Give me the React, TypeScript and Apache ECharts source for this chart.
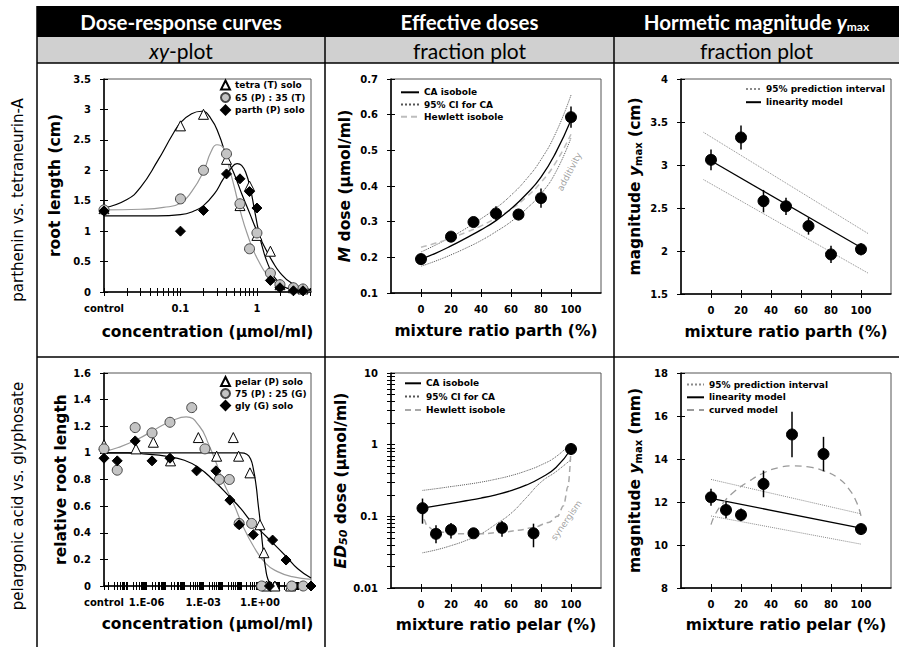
import React, { useEffect, useRef } from 'react';
import * as echarts from 'echarts';

const W = 899;
const H = 647;
const FONT = 'DejaVu Sans';
const HFONT = 'Lato';

// ---------------- table texts ----------------
const colHeaders = ['Dose-response curves', 'Effective doses', 'Hormetic magnitude '];
const subHeaders = ['-plot', 'fraction plot', 'fraction plot'];
const rowLabels = ['parthenin vs. tetraneurin-A', 'pelargonic acid vs. glyphosate'];

// ---------------- panel 1 : dose-response, parthenin / tetraneurin-A ----------------
// concentration (µmol/ml); 0.01 = control position
const p1Conc = [0.01, 0.1, 0.2, 0.4, 0.6, 0.8, 1, 1.5, 2, 3, 4];
const p1Tetra = [1.37, 2.73, 2.92, 2.18, 1.42, 1.74, 0.93, 0.67, 0.12, 0.07, 0.05];
const p1Mix = [1.35, 1.53, 2.0, 2.27, 1.45, 0.71, 0.97, 0.31, 0.12, 0.07, 0.05];
const p1Parth = [1.33, 1.0, 1.34, 1.94, 1.86, 1.65, 1.38, 0.19, 0.07, 0.02, 0.02];
const p1CurveTetra = [[0.01, 1.38], [0.02, 1.52], [0.03, 1.72], [0.05, 2.15], [0.08, 2.6], [0.1, 2.78], [0.14, 2.93], [0.19, 2.97], [0.25, 2.85], [0.32, 2.58], [0.4, 2.22], [0.5, 1.95], [0.63, 1.62], [0.8, 1.3], [1, 1.0], [1.26, 0.74], [1.6, 0.5], [2, 0.32], [2.8, 0.15], [4, 0.07], [5.1, 0.04]];
const p1CurveMix = [[0.01, 1.35], [0.03, 1.36], [0.06, 1.39], [0.1, 1.46], [0.14, 1.65], [0.2, 1.98], [0.25, 2.3], [0.3, 2.42], [0.36, 2.38], [0.4, 2.2], [0.5, 1.75], [0.6, 1.35], [0.75, 0.95], [1, 0.56], [1.5, 0.22], [2, 0.11], [3, 0.04], [5.1, 0.01]];
const p1CurveParth = [[0.01, 1.25], [0.05, 1.25], [0.1, 1.27], [0.15, 1.33], [0.2, 1.42], [0.28, 1.62], [0.36, 1.85], [0.45, 2.02], [0.55, 2.11], [0.63, 2.08], [0.72, 1.95], [0.82, 1.7], [0.92, 1.38], [1.05, 1.0], [1.2, 0.7], [1.4, 0.45], [1.7, 0.24], [2.2, 0.1], [3, 0.04], [5.1, 0.02]];
const p1XLabelConc = [0.01, 0.1, 1];
const p1XLabelText = ['control', '0.1', '1'];
const p1XMinorConc = [0.02, 0.03, 0.04, 0.05, 0.06, 0.07, 0.08, 0.09, 0.2, 0.3, 0.4, 0.5, 0.6, 0.7, 0.8, 0.9, 2, 3, 4, 5];

// ---------------- panel 2 : M dose fraction plot ----------------
const p2Ratio = [0, 20, 35, 50, 65, 80, 100];
const p2Dose = [0.195, 0.258, 0.299, 0.323, 0.32, 0.366, 0.593];
const p2Err = [0.008, 0.01, 0.012, 0.02, 0.016, 0.027, 0.03];
const p2CA = [[0, 0.195], [10, 0.212], [20, 0.232], [30, 0.254], [40, 0.277], [50, 0.303], [60, 0.336], [70, 0.376], [80, 0.425], [90, 0.495], [100, 0.585]];
const p2CIup = [[0, 0.215], [10, 0.235], [20, 0.257], [30, 0.281], [40, 0.308], [50, 0.338], [60, 0.374], [70, 0.418], [80, 0.474], [90, 0.55], [100, 0.655]];
const p2CIlo = [[0, 0.175], [10, 0.19], [20, 0.207], [30, 0.226], [40, 0.247], [50, 0.272], [60, 0.3], [70, 0.335], [80, 0.378], [90, 0.44], [100, 0.535]];
const p2Hewlett = [[0, 0.228], [10, 0.24], [20, 0.254], [30, 0.27], [40, 0.288], [50, 0.31], [60, 0.335], [70, 0.368], [80, 0.41], [90, 0.467], [100, 0.545]];
const p2Note = [[99, 0.44]];

// ---------------- panel 3 : ymax parth ----------------
const p3Ratio = [0, 20, 35, 50, 65, 80, 100];
const p3Ymax = [3.06, 3.32, 2.58, 2.52, 2.29, 1.96, 2.02];
const p3Err = [0.12, 0.14, 0.13, 0.1, 0.1, 0.1, 0.07];
const p3Linear = [[0, 3.05], [100, 2.04]];
const p3PIup = [[-5, 3.38], [105, 2.2]];
const p3PIlo = [[-5, 2.83], [105, 1.74]];

// ---------------- panel 4 : dose-response pelargonic / glyphosate ----------------
// x = log10 concentration (µmol/ml); -8.25 = control position
const p4TriX = [-8.25, -6.56, -5.64, -4.73, -3.26, -2.29, -1.41, -1.13, -0.53, 0, 0.21, 0.35, 0.79, 1.62];
const p4TriY = [1.06, 1.03, 1.08, 0.94, 1.115, 0.975, 1.115, 0.975, 0.85, 0.46, 0.25, 0, 0, 0];
const p4MixX = [-8.25, -7.55, -6.6, -5.71, -4.76, -3.61, -2.91, -2.15, -1.62, -1.1, -0.44, 0.09, 1.68, 2.29];
const p4MixY = [1.03, 0.87, 1.19, 1.15, 1.23, 1.34, 1.03, 0.8, 0.8, 0.47, 0.47, 0, 0, 0];
const p4GlyX = [-8.25, -7.55, -6.6, -5.71, -4.76, -3.35, -2.33, -1.59, -1.1, -0.35, 0.67, 1.38, 0.5, 2.7];
const p4GlyY = [0.96, 0.94, 1.09, 0.94, 0.96, 0.865, 0.865, 0.645, 0.46, 0.385, 0.345, 0.195, 0, 0];
const p4CurveMix = [[-8.25, 1.01], [-7.5, 1.04], [-6.5, 1.1], [-5.5, 1.18], [-4.6, 1.245], [-3.9, 1.27], [-3.2, 1.2], [-2.7, 1.06], [-2.3, 0.92], [-1.9, 0.77], [-1.4, 0.62], [-0.9, 0.45], [-0.35, 0.3], [0.3, 0.17], [0.9, 0.11], [1.7, 0.07], [2.7, 0.05]];
const p4CurveGly = [[-8.25, 1.0], [-7, 1.0], [-6, 0.99], [-5, 0.975], [-4, 0.945], [-3.2, 0.885], [-2.5, 0.8], [-1.6, 0.67], [-1, 0.58], [-0.5, 0.49], [0.35, 0.37], [1.4, 0.22], [2, 0.13], [2.7, 0.06]];
const p4CurvePelar = [[-8.25, 1.0], [-2, 1.0], [-1, 1.0], [-0.7, 0.99], [-0.5, 0.955], [-0.35, 0.88], [-0.2, 0.75], [-0.1, 0.62], [0, 0.5], [0.1, 0.36], [0.2, 0.23], [0.3, 0.13], [0.4, 0.06], [0.55, 0.02], [0.8, 0.0], [2.7, 0.0]];
const p4XLabelPos = [-8.25, -6, -3, 0];
const p4XLabelText = ['control', '1.E-06', '1.E-03', '1.E+00'];
const p4Decades = [-8, -7, -6, -5, -4, -3, -2, -1, 0, 1, 2];

// ---------------- panel 5 : ED50 fraction plot ----------------
const p5Ratio = [1, 10, 20, 35, 54, 75, 100];
const p5ED50 = [0.13, 0.057, 0.065, 0.058, 0.069, 0.058, 0.87];
const p5Lo = [0.079, 0.042, 0.049, 0.051, 0.052, 0.037, 0.82];
const p5Hi = [0.177, 0.075, 0.081, 0.066, 0.086, 0.079, 0.93];
const p5CA = [[1, 0.13], [10, 0.14], [20, 0.152], [30, 0.165], [40, 0.18], [50, 0.2], [60, 0.228], [70, 0.272], [80, 0.345], [90, 0.48], [100, 0.87]];
const p5CIup = [[1, 0.23], [10, 0.243], [20, 0.26], [30, 0.278], [40, 0.3], [50, 0.33], [60, 0.37], [70, 0.43], [80, 0.52], [90, 0.68], [100, 1.05]];
const p5CIlo = [[1, 0.031], [10, 0.034], [20, 0.039], [30, 0.046], [40, 0.057], [50, 0.078], [60, 0.11], [70, 0.18], [80, 0.3], [90, 0.42], [100, 0.62]];
const p5Hewlett = [[1, 0.125], [2, 0.09], [4, 0.074], [8, 0.065], [14, 0.06], [25, 0.057], [40, 0.057], [55, 0.06], [65, 0.064], [75, 0.07], [85, 0.082], [91, 0.1], [95, 0.14], [98, 0.26], [100, 0.87]];
const p5Note = [[97, 0.088]];
const p5YLabelVal = [0.01, 0.1, 1, 10];
const p5YLabelText = ['0.01', '0.1', '1', '10'];

// ---------------- panel 6 : ymax pelar ----------------
const p6Ratio = [0, 10, 20, 35, 54, 75, 100];
const p6Ymax = [12.22, 11.63, 11.4, 12.84, 15.14, 14.23, 10.74];
const p6Err = [0.4, 0.38, 0.3, 0.62, 1.06, 0.8, 0.12];
const p6Linear = [[0, 12.17], [100, 10.78]];
const p6PIup = [[0, 13.05], [100, 11.45]];
const p6PIlo = [[0, 11.35], [100, 10.04]];
const p6Curved = [[0, 10.95], [3, 11.45], [8, 11.95], [15, 12.45], [25, 12.95], [35, 13.35], [45, 13.6], [55, 13.68], [65, 13.63], [75, 13.45], [85, 13.1], [92, 12.6], [97, 12.0], [100, 11.35]];

const ratioLabels = [0, 20, 40, 60, 80, 100];

// ---------------- layout ----------------
const grids = [
  { left: 104, top: 79, width: 207, height: 213 },
  { left: 391, top: 79, width: 210, height: 214 },
  { left: 681, top: 79, width: 210, height: 215 },
  { left: 104, top: 373, width: 207, height: 213 },
  { left: 391, top: 373, width: 210, height: 215 },
  { left: 681, top: 373, width: 210, height: 215 },
];

const lg = (v: number) => Math.log10(v);
const decadeMinors = (decs: number[]) => {
  const out: number[] = [];
  decs.forEach((d) => { for (let k = 2; k <= 9; k++) out.push(d + Math.log10(k)); });
  return out;
};

const TS = 15.5;
const labelStyle = { fontFamily: FONT, fontWeight: 'bold', fontSize: 10, color: '#000' };
const nameBase = { fontFamily: FONT, fontWeight: 'bold', fontSize: TS, color: '#000' };
const rich = {
  n: { fontFamily: FONT, fontWeight: 'bold', fontSize: TS, color: '#000' },
  i: { fontFamily: FONT, fontWeight: 'bold', fontStyle: 'italic', fontSize: TS, color: '#000' },
  s: { fontFamily: FONT, fontWeight: 'bold', fontSize: 10, color: '#000', verticalAlign: 'bottom', lineHeight: 13 },
  is: { fontFamily: FONT, fontWeight: 'bold', fontStyle: 'italic', fontSize: 11, color: '#000', verticalAlign: 'bottom', lineHeight: 13 },
};

function axisPair(dim: 'x' | 'y', gridIndex: number, s: any) {
  const base: any = {
    type: 'value', gridIndex, min: s.min, max: s.max,
    position: dim === 'x' ? 'bottom' : 'left',
    splitLine: { show: false },
  };
  if (s.interval != null) base.interval = s.interval;
  const tick: any = { show: true, length: 4, lineStyle: { color: '#000', width: 1 } };
  if (s.ticks) tick.customValues = s.ticks;
  const label: any = { show: true, margin: dim === 'x' ? 11 : 13, ...labelStyle };
  if (s.labels) label.customValues = s.labels;
  if (s.formatter) label.formatter = s.formatter;
  const main: any = {
    ...base,
    axisLine: { show: true, onZero: false, lineStyle: { color: '#000', width: 1.5 } },
    axisTick: { ...tick, inside: false },
    axisLabel: label,
    name: s.name, nameLocation: 'middle', nameGap: s.nameGap,
    nameTextStyle: { ...nameBase, rich },
  };
  const over: any = {
    ...base,
    axisLine: { show: false, onZero: false },
    axisTick: { ...tick, inside: true },
    axisLabel: { show: false },
  };
  return [main, over];
}

const lookup = (pos: number[], txt: string[]) => (v: number) => {
  const i = pos.findIndex((p) => Math.abs(p - v) < 1e-6);
  return i >= 0 ? txt[i] : '';
};

function lineS(gi: number, data: number[][], color: string, width: number, type: any, name?: string, smooth: any = false) {
  return {
    type: 'line', name, xAxisIndex: gi * 2, yAxisIndex: gi * 2, data,
    symbol: 'none', showSymbol: false, smooth, silent: true, z: 3,
    lineStyle: { color, width, type }, itemStyle: { color },
  };
}
function scatS(gi: number, name: string | undefined, data: number[][], symbol: string, fill: string, border: string, size: number) {
  return {
    type: 'scatter', name, xAxisIndex: gi * 2, yAxisIndex: gi * 2, data, symbol, symbolSize: size,
    itemStyle: { color: fill, borderColor: border, borderWidth: 1, opacity: 1 }, clip: false, z: 5, silent: true,
  };
}
function errS(gi: number, data: number[][]) {
  return {
    type: 'custom', xAxisIndex: gi * 2, yAxisIndex: gi * 2, data, silent: true, z: 4, clip: false,
    encode: { x: 0, y: [1, 2] },
    renderItem: (_p: any, api: any) => {
      const a = api.coord([api.value(0), api.value(1)]);
      const b = api.coord([api.value(0), api.value(2)]);
      return { type: 'line', shape: { x1: a[0], y1: a[1], x2: b[0], y2: b[1] }, style: { stroke: '#000', lineWidth: 1.5 } };
    },
  };
}
function noteS(gi: number, data: number[][], text: string, rotate: number) {
  return {
    type: 'scatter', xAxisIndex: gi * 2, yAxisIndex: gi * 2, data, symbolSize: 1, silent: true,
    itemStyle: { color: 'rgba(0,0,0,0)' },
    label: { show: true, position: 'inside', formatter: text, rotate, color: '#8a8a8a', fontSize: 9, fontFamily: FONT },
  };
}

function buildOption() {
  const xAxis: any[] = [];
  const yAxis: any[] = [];
  const ratioAxis = (gi: number, name: string, gap: number) =>
    xAxis.push(...axisPair('x', gi, { min: -20, max: 120, labels: ratioLabels, ticks: ratioLabels, name, nameGap: gap }));

  // panel 1
  xAxis.push(...axisPair('x', 0, {
    min: -2, max: 0.707,
    labels: p1XLabelConc.map(lg), formatter: lookup(p1XLabelConc.map(lg), p1XLabelText),
    ticks: [...p1XLabelConc, ...p1XMinorConc].map(lg),
    name: 'concentration (µmol/ml)', nameGap: 32,
  }));
  yAxis.push(...axisPair('y', 0, { min: 0, max: 3.5, interval: 0.5, name: 'root length (cm)', nameGap: 41 }));
  // panel 2
  ratioAxis(1, 'mixture ratio parth (%)', 30);
  yAxis.push(...axisPair('y', 1, { min: 0.1, max: 0.7, interval: 0.1, name: '{i|M}{n| dose (µmol/ml)}', nameGap: 38 }));
  // panel 3
  ratioAxis(2, 'mixture ratio parth (%)', 30);
  yAxis.push(...axisPair('y', 2, { min: 1.5, max: 4, interval: 0.5, name: '{n|magnitude }{i|y}{s|max}{n| (cm)}', nameGap: 38 }));
  // panel 4
  xAxis.push(...axisPair('x', 3, {
    min: -8.25, max: 2.7,
    labels: p4XLabelPos, formatter: lookup(p4XLabelPos, p4XLabelText),
    ticks: [-8.25, ...p4Decades, ...decadeMinors(p4Decades.slice(0, -1)).filter((v) => v < 2.7)],
    name: 'concentration (µmol/ml)', nameGap: 30,
  }));
  yAxis.push(...axisPair('y', 3, { min: 0, max: 1.6, interval: 0.2, name: 'relative root length', nameGap: 34 }));
  // panel 5
  ratioAxis(4, 'mixture ratio pelar (%)', 29);
  yAxis.push(...axisPair('y', 4, {
    min: -2, max: 1, interval: 1,
    labels: p5YLabelVal.map(lg), formatter: lookup(p5YLabelVal.map(lg), p5YLabelText),
    ticks: [-2, -1, 0, 1, ...decadeMinors([-2, -1, 0])],
    name: '{i|ED}{is|50}{n| dose (µmol/ml)}', nameGap: 38,
  }));
  // panel 6
  ratioAxis(5, 'mixture ratio pelar (%)', 29);
  yAxis.push(...axisPair('y', 5, { min: 8, max: 18, interval: 2, name: '{n|magnitude }{i|y}{s|max}{n| (mm)}', nameGap: 38 }));

  const zip = (xs: number[], ys: number[]) => xs.map((x, i) => [x, ys[i]]);
  const logX = (d: number[][]) => d.map(([x, y]) => [lg(x), y]);
  const logY = (d: number[][]) => d.map(([x, y]) => [x, lg(y)]);

  const GRAY = '#c4c4c4';
  const series: any[] = [
    // panel 1
    lineS(0, logX(p1CurveTetra), '#000', 1.2, 'solid', undefined, true),
    lineS(0, logX(p1CurveMix), '#9a9a9a', 1.2, 'solid', undefined, true),
    lineS(0, logX(p1CurveParth), '#000', 1.2, 'solid', undefined, true),
    scatS(0, 'tetra (T) solo', zip(p1Conc.map(lg), p1Tetra), 'triangle', '#fff', '#000', 10),
    scatS(0, '65 (P) : 35 (T)', zip(p1Conc.map(lg), p1Mix), 'circle', GRAY, '#444', 10),
    scatS(0, 'parth (P) solo', zip(p1Conc.map(lg), p1Parth), 'diamond', '#000', '#000', 10),
    // panel 2
    lineS(1, p2CIup, '#555', 1, 'dotted', '95% CI for CA', true),
    lineS(1, p2CIlo, '#555', 1, 'dotted', '95% CI for CA', true),
    lineS(1, p2Hewlett, '#bdbdbd', 1.5, [6, 4], 'Hewlett isobole', true),
    lineS(1, p2CA, '#000', 1.3, 'solid', 'CA isobole', true),
    errS(1, p2Ratio.map((x, i) => [x, p2Dose[i] - p2Err[i], p2Dose[i] + p2Err[i]])),
    scatS(1, undefined, zip(p2Ratio, p2Dose), 'circle', '#000', '#000', 11),
    noteS(1, p2Note, 'additivity', 62),
    // panel 3
    lineS(2, p3PIup, '#8a8a8a', 1, 'dotted', '95% prediction interval'),
    lineS(2, p3PIlo, '#8a8a8a', 1, 'dotted', '95% prediction interval'),
    lineS(2, p3Linear, '#000', 1.3, 'solid', 'linearity model'),
    errS(2, p3Ratio.map((x, i) => [x, p3Ymax[i] - p3Err[i], p3Ymax[i] + p3Err[i]])),
    scatS(2, undefined, zip(p3Ratio, p3Ymax), 'circle', '#000', '#000', 11),
    // panel 4
    lineS(3, p4CurveMix, '#9a9a9a', 1.2, 'solid', undefined, true),
    lineS(3, p4CurveGly, '#000', 1.2, 'solid', undefined, true),
    lineS(3, p4CurvePelar, '#000', 1.2, 'solid', undefined, true),
    scatS(3, 'pelar (P) solo', zip(p4TriX, p4TriY), 'triangle', '#fff', '#000', 10),
    scatS(3, '75 (P) : 25 (G)', zip(p4MixX, p4MixY), 'circle', GRAY, '#444', 10),
    scatS(3, 'gly (G) solo', zip(p4GlyX, p4GlyY), 'diamond', '#000', '#000', 10),
    // panel 5
    lineS(4, logY(p5CIup), '#555', 1, 'dotted', '95% CI for CA ', true),
    lineS(4, logY(p5CIlo), '#555', 1, 'dotted', '95% CI for CA ', true),
    { ...lineS(4, logY(p5Hewlett), '#a8a8a8', 1.5, [6, 4], 'Hewlett isobole ', 0.35), smoothMonotone: 'x' },
    lineS(4, logY(p5CA), '#000', 1.3, 'solid', 'CA isobole ', true),
    errS(4, p5Ratio.map((x, i) => [x, lg(p5Lo[i]), lg(p5Hi[i])])),
    scatS(4, undefined, logY(zip(p5Ratio, p5ED50)), 'circle', '#000', '#000', 11),
    noteS(4, logY(p5Note), 'synergism', 55),
    // panel 6
    lineS(5, p6PIup, '#8a8a8a', 1, 'dotted', '95% prediction interval '),
    lineS(5, p6PIlo, '#8a8a8a', 1, 'dotted', '95% prediction interval '),
    lineS(5, p6Linear, '#000', 1.3, 'solid', 'linearity model '),
    lineS(5, p6Curved, '#9a9a9a', 1.3, [7, 5], 'curved model', true),
    errS(5, p6Ratio.map((x, i) => [x, p6Ymax[i] - p6Err[i], p6Ymax[i] + p6Err[i]])),
    scatS(5, undefined, zip(p6Ratio, p6Ymax), 'circle', '#000', '#000', 11),
  ];

  const legText = { fontFamily: FONT, fontWeight: 'bold', fontSize: 9, color: '#000', lineHeight: 11 };
  const leg = (left: number, top: number, data: string[], itemWidth: number, gap: number, lineOnly: boolean) => ({
    left, top, orient: 'vertical', padding: 0, itemGap: gap, itemWidth, itemHeight: 9,
    selectedMode: false, textStyle: legText, data,
    ...(lineOnly ? { itemStyle: { opacity: 0 } } : {}),
  });
  const legend = [
    leg(220, 79.5, ['tetra (T) solo', '65 (P) : 35 (T)', 'parth (P) solo'], 9, 1.5, false),
    leg(400, 86.8, ['CA isobole', '95% CI for CA', 'Hewlett isobole'], 18, 1.2, true),
    leg(745, 83.5, ['95% prediction interval', 'linearity model'], 15, 2.2, true),
    leg(220, 376, ['pelar (P) solo', '75 (P) : 25 (G)', 'gly (G) solo'], 9, 1, false),
    leg(404, 377.8, ['CA isobole ', '95% CI for CA ', 'Hewlett isobole '], 16, 2.3, true),
    leg(686, 379, ['95% prediction interval ', 'linearity model ', 'curved model'], 17, 1.8, true),
  ];

  const ln = (x1: number, y1: number, x2: number, y2: number) => ({
    type: 'line', shape: { x1, y1, x2, y2 }, style: { stroke: '#000', lineWidth: 1.5 }, silent: true,
  });
  const colCenters = [181, 469.5, 756.5];
  const graphic: any[] = [
    { type: 'rect', shape: { x: 37, y: 6, width: 862, height: 31 }, style: { fill: '#000' }, silent: true },
    { type: 'rect', shape: { x: 37, y: 37, width: 862, height: 26 }, style: { fill: '#d0d0d0' }, silent: true },
    ln(37, 63, 899, 63), ln(37, 357, 899, 357),
    ln(37, 6, 37, 647), ln(325, 37, 325, 647), ln(614, 37, 614, 647),
    ...colHeaders.map((t, i) => ({
      type: 'text', x: colCenters[i], y: 22, silent: true,
      style: i === 2
        ? {
          text: `{a|${t}}{y|y}{s|max}`, align: 'center', verticalAlign: 'middle',
          rich: {
            a: { fontFamily: HFONT, fontWeight: 'bold', fontSize: 20.5, fill: '#fff' },
            y: { fontFamily: HFONT, fontWeight: 'bold', fontStyle: 'italic', fontSize: 20.5, fill: '#fff' },
            s: { fontFamily: HFONT, fontWeight: 'bold', fontSize: 12, fill: '#fff', verticalAlign: 'bottom', lineHeight: 16 },
          },
        }
        : { text: t, align: 'center', verticalAlign: 'middle', fontFamily: HFONT, fontWeight: 'bold', fontSize: 20.5, fill: '#fff' },
    })),
    ...subHeaders.map((t, i) => ({
      type: 'text', x: colCenters[i], y: 50.5, silent: true,
      style: i === 0
        ? {
          text: `{i|xy}{n|${t}}`, align: 'center', verticalAlign: 'middle',
          rich: {
            i: { fontFamily: HFONT, fontStyle: 'italic', fontSize: 21, fill: '#000' },
            n: { fontFamily: HFONT, fontSize: 21, fill: '#000' },
          },
        }
        : { text: t, align: 'center', verticalAlign: 'middle', fontFamily: HFONT, fontSize: 21, fill: '#000' },
    })),
    ...rowLabels.map((t, i) => ({
      type: 'text', x: 18, y: i === 0 ? 200 : 496, rotation: Math.PI / 2, silent: true,
      style: { text: t, align: 'center', verticalAlign: 'middle', fontFamily: FONT, fontSize: 15, fill: '#000' },
    })),
  ];

  return {
    animation: false,
    backgroundColor: '#fff',
    grid: grids.map((g) => ({ ...g, show: true, borderColor: '#555', borderWidth: 1, backgroundColor: 'transparent' })),
    xAxis, yAxis, series, legend, graphic,
  };
}

export default function App() {
  const ref = useRef<HTMLDivElement>(null);
  useEffect(() => {
    const chart = echarts.init(ref.current!, null, { renderer: 'svg', width: W, height: H });
    chart.setOption(buildOption() as any);
    return () => chart.dispose();
  }, []);
  return <div ref={ref} style={{ position: 'fixed', left: 0, top: 0, width: W, height: H, background: '#fff' }} />;
}
